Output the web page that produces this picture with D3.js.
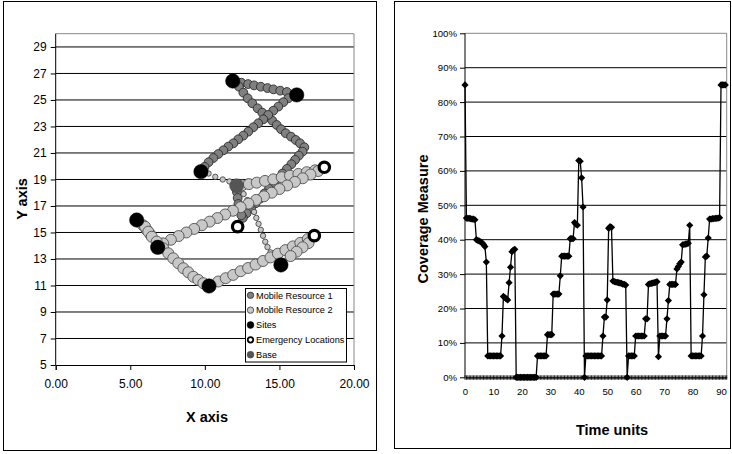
<!DOCTYPE html>
<html>
<head>
<meta charset="utf-8">
<script src="https://cdn.jsdelivr.net/npm/d3@7"></script>
<style>
  body { margin: 0; background: #fff; }
  svg { display: block; }
  svg text { font-family: "Liberation Sans", Arial, sans-serif; }
</style>
</head>
<body>
<svg id="chart" width="732" height="454"></svg>
<script>
// ---------- Left panel: resource movements on the map ----------
const xAxisTicks = [0, 5, 10, 15, 20];
const yAxisTicks = [5, 7, 9, 11, 13, 15, 17, 19, 21, 23, 25, 27, 29];

const sites = [[11.87, 26.43], [16.16, 25.38], [9.74, 19.59], [5.43, 15.94], [6.84, 13.88], [10.28, 10.96], [15.1, 12.55]];
const emergencyLocations = [[18.01, 19.92], [12.2, 15.44], [17.34, 14.76]];
const basePoint = [[12.13, 18.53]];

const mobileResource1 = [
  // top leg between the two northern sites
  [12.45, 26.3], [12.9, 26.2], [13.3, 26.1], [13.75, 26.0], [14.2, 25.9], [14.6, 25.8], [15.05, 25.7], [15.5, 25.6],
  // north site down to the east turn
  [12.29, 26.0], [12.58, 25.55], [12.87, 25.13], [13.18, 24.75], [13.54, 24.37], [13.85, 24.04], [14.21, 23.74], [14.52, 23.44],
  [14.82, 23.11], [15.11, 22.79], [15.42, 22.49], [15.78, 22.23], [16.09, 21.98], [16.38, 21.73], [16.67, 21.43],
  // east turn back towards the base
  [16.55, 21.1], [16.3, 20.8], [16.05, 20.48], [15.8, 20.15], [15.5, 19.8], [15.2, 19.45], [14.9, 19.05], [14.6, 18.65],
  [14.3, 18.3], [14.0, 17.95], [13.7, 17.55], [13.4, 17.2], [13.1, 16.8], [12.8, 16.45], [12.55, 16.1],
  // leaving the base
  [12.15, 18.05], [12.2, 17.6], [12.25, 17.15], [12.35, 16.7], [12.45, 16.3],
  // long diagonal to the western site
  [15.6, 25.13], [15.26, 24.83], [14.93, 24.5], [14.59, 24.19], [14.25, 23.87], [13.92, 23.54], [13.58, 23.24], [13.25, 22.94],
  [12.91, 22.61], [12.58, 22.31], [12.24, 22.03], [11.91, 21.73], [11.57, 21.48], [11.24, 21.2], [10.9, 20.92], [10.57, 20.62],
  [10.25, 20.3], [9.98, 19.95]
];

const mobileResource2Transit = [
  [10.25, 19.45], [10.7, 19.2], [11.2, 19.0], [11.65, 18.85],
  [12.6, 17.9], [12.85, 17.45], [13.1, 17.0], [13.3, 16.55], [13.45, 16.1], [13.6, 15.65], [13.75, 15.2], [13.9, 14.75],
  [14.05, 14.3], [14.2, 13.9], [14.4, 13.5], [14.6, 13.15]
];

const mobileResource2 = [
  // base out to the eastern emergency
  [12.5, 18.56], [12.95, 18.65], [13.48, 18.76], [14.03, 18.89], [14.59, 19.01], [15.15, 19.17], [15.71, 19.29],
  [16.27, 19.42], [16.83, 19.55], [17.39, 19.69],
  // eastern emergency down to the western site
  [17.6, 19.64], [17.08, 19.37], [16.56, 19.09], [16.04, 18.82], [15.52, 18.55], [15.0, 18.28], [14.48, 18.0],
  [13.96, 17.73], [13.44, 17.46], [12.92, 17.18], [12.4, 16.91], [11.88, 16.64], [11.36, 16.36], [10.84, 16.09],
  [10.32, 15.82], [9.8, 15.55], [9.28, 15.27], [8.76, 15.0], [8.24, 14.73], [7.72, 14.45], [7.2, 14.18],
  // western sites to the southern site
  [5.85, 15.55], [6.1, 15.2], [6.35, 14.85],
  [5.99, 15.44], [6.21, 15.06], [6.44, 14.68], [6.77, 14.31], [7.21, 13.81], [7.55, 13.43], [7.88, 13.05], [8.22, 12.68],
  [8.56, 12.3], [8.89, 12.0], [9.23, 11.66], [9.56, 11.42], [9.9, 11.17],
  // southern site up to the south-eastern emergency
  [10.9, 11.3], [11.4, 11.55], [11.9, 11.8], [12.4, 12.08], [12.9, 12.32], [13.4, 12.58], [13.9, 12.85], [14.4, 13.12],
  [14.9, 13.4], [15.4, 13.67], [15.9, 13.95], [16.4, 14.22], [16.9, 14.5],
  // and back towards the south-eastern site
  [16.95, 14.2], [16.55, 13.88], [16.15, 13.55], [15.75, 13.22]
];

const legendLabels = ["Mobile Resource 1", "Mobile Resource 2", "Sites", "Emergency Locations", "Base"];

// ---------- Right panel: coverage over time ----------
const coverageTicks = [0, 10, 20, 30, 40, 50, 60, 70, 80, 90, 100];
const timeTicks = [0, 10, 20, 30, 40, 50, 60, 70, 80, 90];
const timeStep = 0.5;
const coverage = [
  85,
  46.3, 46.2, 46.2, 46.1, 46.0, 46.0, 45.8,
  40.0, 39.8, 39.6, 39.4, 39.1,
  38.6, 38.0, 33.5,
  6.2, 6.2, 6.2, 6.2, 6.2, 6.2, 6.2, 6.2, 6.2, 6.2,
  12, 23.5, 23.2, 22.8, 22.5, 27.5, 32, 36.5, 37, 37.2,
  0, 0, 0, 0, 0, 0, 0, 0, 0, 0, 0, 0, 0, 0, 0,
  6.2, 6.2, 6.2, 6.2, 6.2, 6.2, 6.2,
  12.4, 12.4, 12.4, 12.4,
  24.2, 24.2, 24.2, 24.2, 24.2,
  29.5,
  35.2, 35.2, 35.2, 35.2, 35.2, 35.2,
  40.3, 40.3, 40.3,
  45, 44.5, 44.2, 63, 62.8, 58, 49.5,
  0,
  6.2, 6.2, 6.2, 6.2, 6.2, 6.2, 6.2, 6.2, 6.2, 6.2, 6.2, 6.2,
  12, 17.5, 17.5, 22.5, 43.3, 43.8, 43.6,
  28, 27.8, 27.7, 27.6, 27.5, 27.4, 27.3, 27.1, 27.0, 26.8,
  0,
  6.2, 6.2, 6.2, 6.2, 6.2,
  12, 12, 12, 12, 12, 12, 12,
  17, 17,
  27, 27.2, 27.3, 27.4, 27.5, 27.6, 27.8,
  6,
  12, 12, 12, 12, 12,
  17, 22.3,
  27, 27, 27, 27, 27,
  31.5, 32.2, 33, 33.5,
  38.5, 38.6, 38.7, 38.8, 39.0,
  44.2,
  6.2, 6.2, 6.2, 6.2, 6.2, 6.2, 6.2, 6.2,
  12, 24, 35, 35.2, 40.5,
  46.0, 46.0, 46.1, 46.1, 46.2, 46.2, 46.3, 46.4,
  85, 85, 85, 85
];

const svg = d3.select("#chart");

// Panel frames
svg.append("rect").attr("x", 3.5).attr("y", 1.5).attr("width", 373).attr("height", 449)
  .attr("fill", "none").attr("stroke", "#000");
svg.append("rect").attr("x", 394.5).attr("y", 1.5).attr("width", 336).attr("height", 447)
  .attr("fill", "none").attr("stroke", "#000");

function styleAxis(a, size) {
  a.attr("font-family", null);
  a.selectAll(".tick line").attr("stroke", "#000");
  a.selectAll("text").attr("font-size", size).attr("fill", "#000");
}

// ================= Left panel =================
const xL = d3.scaleLinear().domain([0, 20]).range([55.7, 354]);
const yL = d3.scaleLinear().domain([5, 30]).range([365, 33.7]);
const left = svg.append("g");

left.append("g").selectAll("line").data(yAxisTicks.slice(1)).join("line")
  .attr("x1", xL(0)).attr("x2", xL(20)).attr("y1", d => yL(d)).attr("y2", d => yL(d))
  .attr("stroke", "#000").attr("stroke-width", 1);

// plot-area border (top / right)
left.append("path")
  .attr("d", `M${xL(0)},${yL(30)}H${xL(20)}V${yL(5)}`)
  .attr("fill", "none").attr("stroke", "#888").attr("stroke-width", 1);

const yAxisL = left.append("g").attr("transform", `translate(${xL(0)},0)`)
  .call(d3.axisLeft(yL).tickValues(yAxisTicks).tickSize(5).tickPadding(4).tickFormat(d3.format("d")));
const xAxisL = left.append("g").attr("transform", `translate(0,${yL(5)})`)
  .call(d3.axisBottom(xL).tickValues(xAxisTicks).tickSize(5).tickPadding(9).tickFormat(d3.format(".2f")));
styleAxis(yAxisL, 12);
styleAxis(xAxisL, 12);
yAxisL.select(".domain").attr("d", `M0,${yL(30)}V${yL(5)}`).attr("stroke", "#000");
xAxisL.select(".domain").attr("stroke", "#000");

function dots(data, r, fill, stroke, sw) {
  left.append("g").selectAll("circle").data(data).join("circle")
    .attr("cx", d => xL(d[0])).attr("cy", d => yL(d[1])).attr("r", r)
    .attr("fill", fill).attr("stroke", stroke).attr("stroke-width", sw);
}
dots(mobileResource1, 4.4, "#808080", "#2b2b2b", 0.9);
dots(mobileResource2Transit, 2.7, "#c8c8c8", "#333", 0.8);
dots(mobileResource2, 5.5, "#c8c8c8", "#505050", 0.9);
dots(sites, 7.2, "#000", "#000", 0.5);
dots(emergencyLocations, 5.2, "#fff", "#000", 3.2);
dots(basePoint, 7, "#555", "#444", 0.5);

// Legend
const lg = left.append("g");
lg.append("rect").attr("x", 245.5).attr("y", 288.5).attr("width", 101).attr("height", 73.5)
  .attr("fill", "#fff").attr("stroke", "#000");
const legendMarks = [
  { r: 3.2, fill: "#808080", stroke: "#2b2b2b", sw: 0.8 },
  { r: 3.2, fill: "#c8c8c8", stroke: "#333", sw: 0.8 },
  { r: 3.4, fill: "#000", stroke: "#000", sw: 0.5 },
  { r: 2.7, fill: "#fff", stroke: "#000", sw: 1.8 },
  { r: 3.4, fill: "#555", stroke: "#444", sw: 0.5 }
];
const li = lg.selectAll("g.item").data(legendLabels).join("g")
  .attr("transform", (d, i) => `translate(250.5,${295.3 + i * 14.85})`);
li.append("circle").attr("r", (d, i) => legendMarks[i].r)
  .attr("fill", (d, i) => legendMarks[i].fill).attr("stroke", (d, i) => legendMarks[i].stroke)
  .attr("stroke-width", (d, i) => legendMarks[i].sw);
li.append("text").attr("x", 5.5).attr("dy", "0.35em").attr("font-size", 9.2).attr("fill", "#000").text(d => d);

left.append("text").attr("x", 207).attr("y", 417).attr("dy", "0.35em").attr("text-anchor", "middle")
  .attr("font-size", 14.5).attr("font-weight", "bold").text("X axis");
left.append("text").attr("transform", `translate(21.7,199) rotate(-90)`).attr("dy", "0.35em")
  .attr("text-anchor", "middle").attr("font-size", 14.5).attr("font-weight", "bold").text("Y axis");

// ================= Right panel =================
const xR = d3.scaleLinear().domain([0, 92]).range([465, 726.7]);
const yR = d3.scaleLinear().domain([0, 100]).range([377.3, 33.3]);
const right = svg.append("g");

right.append("g").selectAll("line").data(coverageTicks.slice(1, -1)).join("line")
  .attr("x1", xR(0)).attr("x2", xR(92)).attr("y1", d => yR(d)).attr("y2", d => yR(d))
  .attr("stroke", "#000").attr("stroke-width", 1);
right.append("path")
  .attr("d", `M${xR(0)},${yR(100)}H${xR(92)}V${yR(0)}`)
  .attr("fill", "none").attr("stroke", "#888").attr("stroke-width", 1);

const yAxisR = right.append("g").attr("transform", `translate(${xR(0)},0)`)
  .call(d3.axisLeft(yR).tickValues(coverageTicks).tickSize(5).tickPadding(3).tickFormat(d => d + "%"));
yAxisR.select(".domain").attr("d", `M0,${yR(100)}V${yR(0)}`).attr("stroke", "#000");

// category tick marks along the time axis
const times = coverage.map((v, i) => i * timeStep);
right.append("g").selectAll("line").data(times.concat([92])).join("line")
  .attr("x1", d => xR(d)).attr("x2", d => xR(d))
  .attr("y1", yR(0) - 2).attr("y2", yR(0) + 2.5)
  .attr("stroke", "#111").attr("stroke-width", 0.9);

const xAxisR = right.append("g").attr("transform", `translate(0,${yR(0)})`)
  .call(d3.axisBottom(xR).tickValues(timeTicks).tickSize(0).tickPadding(11).tickFormat(d3.format("d")));
xAxisR.select(".domain").attr("stroke", "#000").attr("stroke-width", 1.2);
styleAxis(yAxisR, 9.6);
styleAxis(xAxisR, 9.6);

right.append("path").datum(coverage)
  .attr("d", d3.line().x((d, i) => xR(times[i])).y(d => yR(d)))
  .attr("fill", "none").attr("stroke", "#000").attr("stroke-width", 1.3);

const diamond = "M0,-3.6L3.6,0L0,3.6L-3.6,0Z";
right.append("g").selectAll("path").data(coverage).join("path")
  .attr("transform", (d, i) => `translate(${xR(times[i])},${yR(d)})`)
  .attr("d", diamond).attr("fill", "#000");

right.append("text").attr("x", 612).attr("y", 430).attr("dy", "0.35em").attr("text-anchor", "middle")
  .attr("font-size", 14.5).attr("font-weight", "bold").text("Time units");
right.append("text").attr("transform", `translate(423.3,219) rotate(-90)`).attr("dy", "0.35em")
  .attr("text-anchor", "middle").attr("font-size", 14.5).attr("font-weight", "bold").text("Coverage Measure");
</script>
</body>
</html>
